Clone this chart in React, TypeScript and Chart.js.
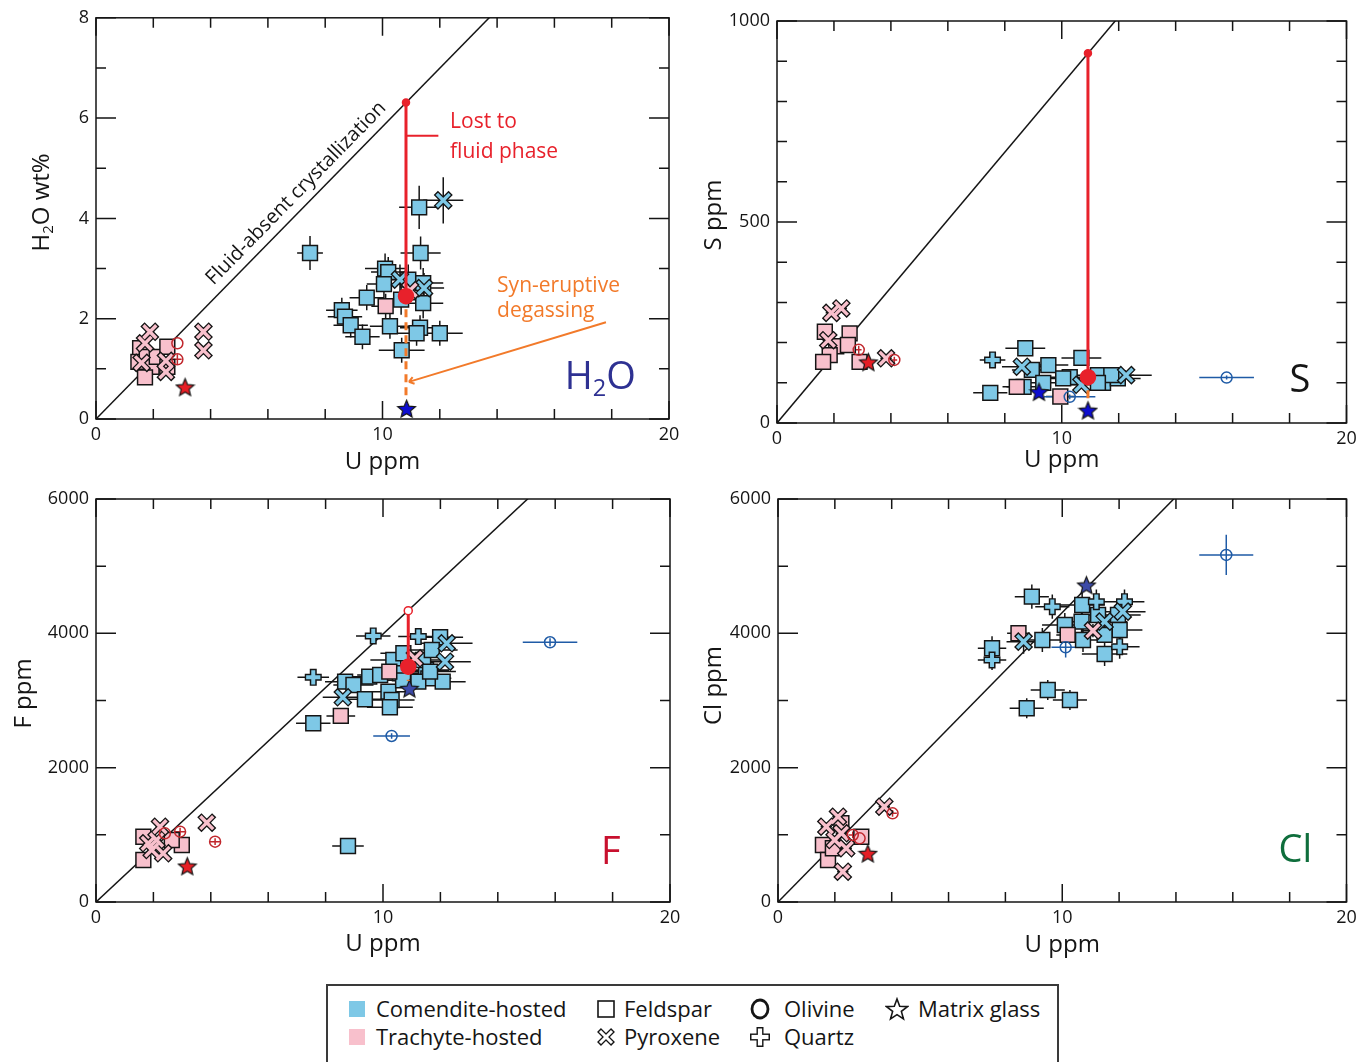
import React, { useEffect, useRef } from 'react';
import { Chart, registerables } from 'chart.js';

Chart.register(...registerables);

const FONT = "'Open Sans', 'Noto Sans', sans-serif";
const INK = '#151515';
const COM = '#7ec8e6';
const TRA = '#f8c0cc';
const COM_OL = '#1f5ba6';
const TRA_OL = '#c1272d';
const RED = '#e8212b';
const ORANGE = '#f27a2a';

// ---------- shared axis ----------
const U_MIN = 0;
const U_MAX = 20;
const U_STEP = 2;
const U_LABEL_STEP = 10;

// ---------- H2O panel (U ppm, H2O wt%) : [U, value, errU, errValue] ----------
const H2O_COM_FSP = [
  [7.47, 3.31, 0.45, 0.34], [11.28, 4.22, 0.7, 0.43], [11.33, 3.31, 0.7, 0.33],
  [10.09, 3.0, 0.7, 0.3], [10.2, 2.93, 0.6, 0.3], [10.05, 2.69, 0.6, 0.3],
  [10.9, 2.78, 0.6, 0.3], [11.42, 2.71, 0.7, 0.3], [9.45, 2.42, 0.6, 0.25],
  [10.65, 2.38, 0.6, 0.3], [11.42, 2.31, 0.7, 0.3], [8.58, 2.17, 0.55, 0.25],
  [8.69, 2.04, 0.6, 0.25], [8.89, 1.87, 0.6, 0.25], [9.3, 1.64, 0.6, 0.25],
  [10.26, 1.85, 0.7, 0.25], [11.31, 1.82, 0.7, 0.25], [11.19, 1.71, 0.7, 0.25],
  [12.0, 1.71, 0.8, 0.25], [10.67, 1.37, 0.8, 0.25],
];
const H2O_COM_PYX = [[12.12, 4.36, 0.7, 0.46], [10.61, 2.78, 0.6, 0.3], [11.45, 2.61, 0.7, 0.3]];
const H2O_COM_QTZ: number[][] = [];
const H2O_COM_OL: number[][] = [];
const H2O_COM_GL = [[10.84, 0.21]];
const H2O_TRA_FSP = [
  [10.11, 2.25, 0.5, 0.25], [1.54, 1.41, 0.15, 0.08], [1.48, 1.14, 0.15, 0.08],
  [1.77, 1.24, 0.15, 0.08], [1.94, 1.04, 0.15, 0.08], [1.71, 0.83, 0.15, 0.08],
  [2.12, 1.24, 0.15, 0.08], [2.49, 1.44, 0.15, 0.08], [2.49, 1.04, 0.15, 0.08],
];
const H2O_TRA_PYX = [
  [1.88, 1.74, 0.15, 0.08], [1.71, 1.51, 0.15, 0.08], [1.59, 1.12, 0.15, 0.08],
  [2.44, 1.16, 0.15, 0.08], [2.44, 0.94, 0.15, 0.08], [3.75, 1.74, 0.15, 0.08],
  [3.75, 1.37, 0.15, 0.08], [10.96, 2.57, 0.3, 0.2],
];
const H2O_TRA_QTZ: number[][] = [];
const H2O_TRA_OL = [[2.84, 1.51, 0, 0], [2.84, 1.19, 0.15, 0.1]];
const H2O_TRA_GL = [[3.11, 0.64]];
const H2O_PATH = [[10.82, 6.31], [10.82, 2.45]];
const H2O_DEGAS = [[10.82, 2.45], [10.82, 0.44]];

// ---------- S panel ----------
const S_COM_FSP = [
  [7.49, 75, 0.6, 8], [8.72, 186, 0.7, 8], [8.95, 132, 0.7, 8], [9.53, 144, 0.7, 8],
  [8.66, 90, 0.6, 8], [9.35, 100, 0.7, 8], [10.69, 162, 0.7, 8], [10.28, 114, 0.7, 8],
  [10.05, 111, 0.7, 8], [11.45, 100, 0.8, 8], [11.97, 111, 0.8, 8], [11.27, 119, 0.8, 8],
  [11.74, 119, 0.8, 8], [11.27, 100, 0.8, 8],
];
const S_COM_PYX = [[8.6, 140, 0.7, 8], [10.69, 95, 0.7, 8], [12.26, 119, 0.9, 8]];
const S_COM_QTZ = [[7.57, 157, 0.45, 8]];
const S_COM_OL = [[10.28, 65, 0.9, 6], [15.79, 113, 0.96, 5]];
const S_COM_GL = [[9.2, 78], [10.92, 32]];
const S_TRA_FSP = [
  [1.68, 227, 0.2, 8], [2.55, 223, 0.2, 8], [2.08, 191, 0.2, 8], [2.49, 194, 0.2, 8],
  [1.85, 169, 0.2, 8], [1.62, 152, 0.2, 8], [2.9, 152, 0.2, 8], [8.42, 90, 0.5, 8],
  [9.95, 66, 0.5, 8],
];
const S_TRA_PYX = [[1.91, 274, 0.2, 8], [2.26, 285, 0.2, 8], [1.8, 206, 0.2, 8], [3.83, 161, 0.2, 8]];
const S_TRA_QTZ: number[][] = [];
const S_TRA_OL = [[2.87, 182, 0.1, 10], [4.12, 157, 0.1, 8]];
const S_TRA_GL = [[3.21, 152]];
const S_PATH = [[10.92, 920], [10.92, 114]];
const S_DEGAS = [[10.92, 114], [10.92, 55]];

// ---------- F panel ----------
const F_COM_FSP = [
  [11.99, 3941, 0.8, 60], [8.68, 3281, 0.7, 60], [8.97, 3231, 0.7, 60], [9.52, 3355, 0.7, 60],
  [9.37, 3018, 0.7, 60], [10.36, 3603, 0.8, 60], [10.71, 3703, 0.8, 60], [11.5, 3454, 0.8, 60],
  [11.58, 3330, 0.8, 60], [12.08, 3281, 0.8, 60], [10.19, 3132, 0.8, 60], [10.3, 3008, 0.8, 60],
  [10.24, 2899, 0.8, 60], [7.57, 2661, 0.6, 60], [11.4, 3603, 0.9, 60], [11.7, 3752, 0.9, 60],
  [10.59, 3405, 0.8, 60], [9.9, 3380, 0.8, 60], [11.23, 3281, 0.8, 60], [11.64, 3430, 0.9, 60],
  [10.7, 3300, 0.8, 60], [8.78, 834, 0.55, 40],
];
const F_COM_PYX = [[8.6, 3048, 0.7, 60], [12.22, 3852, 0.9, 60], [12.16, 3578, 0.9, 60]];
const F_COM_QTZ = [[9.66, 3961, 0.6, 60], [11.23, 3951, 0.7, 60], [7.57, 3345, 0.55, 60]];
const F_COM_OL = [[10.3, 2472, 0.64, 40], [15.82, 3867, 0.95, 60]];
const F_COM_GL = [[10.92, 3182]];
const F_TRA_FSP = [
  [10.22, 3429, 0.5, 60], [8.53, 2770, 0.5, 60], [1.65, 972, 0.15, 40], [1.65, 625, 0.15, 40],
  [2.99, 849, 0.15, 40], [2.64, 923, 0.15, 40],
];
const F_TRA_PYX = [
  [11.11, 3628, 0.4, 60], [3.86, 1181, 0.15, 40], [2.23, 1121, 0.15, 40], [1.82, 874, 0.15, 40],
  [2.34, 725, 0.15, 40], [1.94, 774, 0.15, 40], [2.11, 923, 0.15, 40],
];
const F_TRA_QTZ: number[][] = [];
const F_TRA_OL = [[4.15, 898, 0.2, 50], [2.93, 1047, 0.2, 60], [2.4, 1022, 0.2, 60]];
const F_TRA_GL = [[3.18, 536]];
const F_PATH = [[10.88, 4337], [10.88, 3503]];
const F_DEGAS = [[10.88, 3503], [10.88, 3290]];

// ---------- Cl panel ----------
const CL_COM_FSP = [
  [8.93, 4546, 0.6, 180], [10.7, 4422, 0.8, 180], [10.68, 4174, 0.8, 180], [10.09, 4124, 0.8, 180],
  [11.96, 4273, 0.8, 180], [12.02, 4050, 0.8, 180], [9.3, 3901, 0.7, 180], [10.73, 3901, 0.8, 180],
  [11.49, 3976, 0.8, 180], [11.49, 3693, 0.8, 180], [7.53, 3778, 0.5, 180], [9.49, 3157, 0.6, 150],
  [10.27, 3008, 0.6, 150], [8.75, 2884, 0.6, 150], [11.26, 4273, 0.8, 180],
];
const CL_COM_PYX = [[12.13, 4323, 0.8, 180], [11.49, 4174, 0.8, 180], [8.64, 3876, 0.6, 180]];
const CL_COM_QTZ = [
  [9.65, 4397, 0.6, 180], [11.2, 4472, 0.7, 180], [12.19, 4472, 0.7, 180], [12.02, 3802, 0.7, 180],
  [7.53, 3603, 0.5, 150],
];
const CL_COM_OL = [[10.12, 3792, 0.5, 150], [15.77, 5167, 0.95, 300]];
const CL_COM_GL = [[10.85, 4720]];
const CL_TRA_FSP = [
  [8.46, 4001, 0.4, 100], [10.19, 3976, 0.4, 100], [1.58, 849, 0.2, 60], [1.76, 625, 0.2, 60],
  [2.93, 972, 0.2, 60], [2.23, 1172, 0.2, 60], [1.93, 800, 0.2, 60],
];
const CL_TRA_PYX = [
  [11.08, 4040, 0.4, 100], [3.74, 1419, 0.2, 60], [2.11, 1270, 0.2, 60], [1.7, 1121, 0.2, 60],
  [2.23, 1023, 0.2, 60], [2.28, 451, 0.2, 60], [2.4, 800, 0.2, 60], [1.99, 923, 0.2, 60],
];
const CL_TRA_QTZ: number[][] = [];
const CL_TRA_OL = [[4.03, 1320, 0.15, 50], [2.63, 998, 0.15, 50], [2.87, 948, 0.15, 50]];
const CL_TRA_GL = [[3.16, 725]];

// ---------- panel axes and reference lines ----------
const Y_MAX = [8, 1000, 6000, 6000];
const Y_STEP = [1, 100, 1000, 1000];
const Y_LABEL_STEP = [2, 500, 2000, 2000];
const ONE_TO_ONE_SLOPE = [0.583, 84.2, 399, 431];

// ---------- annotation anchors (data units) ----------
const LOST_TEXT = ['Lost to', 'fluid phase'];
const LOST_TEXT_AT = [[12.36, 5.93], [12.36, 5.33]];
const LOST_LEADER = [[10.82, 5.65], [11.95, 5.65]];
const SYN_TEXT = ['Syn-eruptive', 'degassing'];
const SYN_TEXT_AT = [[14.0, 2.65], [14.0, 2.15]];
const SYN_LEADER = [[17.8, 1.93], [10.92, 0.74]];
const DIAG_TEXT = 'Fluid-absent crystallization';
const DIAG_TEXT_U = 7.36;
const TAG_AT = [[17.6, 0.88], [18.36, 112], [17.94, 774], [18.2, 804]];

type Part = [string, boolean];

function makeStar(fill: string, size: number) {
  const c = document.createElement('canvas');
  c.width = size;
  c.height = size;
  const g = c.getContext('2d')!;
  const cx = size / 2;
  const cy = size / 2 + size * 0.05;
  const R = size / 2 - 1.2;
  const r = R * 0.45;
  g.beginPath();
  for (let i = 0; i < 10; i++) {
    const a = -Math.PI / 2 + (i * Math.PI) / 5;
    const rr = i % 2 ? r : R;
    g.lineTo(cx + rr * Math.cos(a), cy + rr * Math.sin(a));
  }
  g.closePath();
  g.fillStyle = fill;
  g.fill();
  g.lineWidth = 1.2;
  g.strokeStyle = INK;
  g.stroke();
  return c;
}

const pts = (a: number[][]) => a.map((p) => ({ x: p[0], y: p[1] }));
const errs = (a: number[][]) => a.map((p) => [p[2] || 0, p[3] || 0]);

function squares(a: number[][], fill: string) {
  return {
    data: pts(a), errs: errs(a), errColor: INK,
    pointStyle: 'rect', pointRadius: 10.5, pointBackgroundColor: fill,
    pointBorderColor: INK, pointBorderWidth: 1.5, showLine: false,
  };
}
function outlined(a: number[][], fill: string, style: string, r: number, wOut: number, wIn: number) {
  return [
    {
      data: pts(a), errs: errs(a), errColor: INK,
      pointStyle: style, pointRadius: r, pointBorderColor: INK, pointBorderWidth: wOut,
      pointBackgroundColor: INK, showLine: false,
    },
    {
      data: pts(a), pointStyle: style, pointRadius: r - 1.4, pointBorderColor: fill,
      pointBorderWidth: wIn, pointBackgroundColor: fill, showLine: false,
    },
  ];
}
function olivine(a: number[][], c: string) {
  return {
    data: pts(a), errs: errs(a), errColor: c,
    pointStyle: 'circle', pointRadius: 5.5, pointBackgroundColor: 'rgba(255,255,255,0)',
    pointBorderColor: c, pointBorderWidth: 1.5, showLine: false,
  };
}
function stars(a: number[][], img: HTMLCanvasElement) {
  return { data: pts(a), pointStyle: img, pointRadius: 10, showLine: false };
}

const isMul = (v: number, s: number) => {
  const q = v / s;
  return Math.abs(q - Math.round(q)) < 1e-6;
};

function drawRich(ctx: CanvasRenderingContext2D, parts: Part[], x: number, y: number, size: number, color: string, rotate: boolean) {
  ctx.save();
  ctx.translate(x, y);
  if (rotate) ctx.rotate(-Math.PI / 2);
  ctx.fillStyle = color;
  ctx.textBaseline = 'alphabetic';
  ctx.textAlign = 'left';
  let total = 0;
  const widths = parts.map(([t, sub]) => {
    ctx.font = `${sub ? size * 0.62 : size}px ${FONT}`;
    const w = ctx.measureText(t).width;
    total += w;
    return w;
  });
  let cx = -total / 2;
  const base = size * 0.36;
  parts.forEach(([t, sub], i) => {
    ctx.font = `${sub ? size * 0.62 : size}px ${FONT}`;
    ctx.fillText(t, cx, base + (sub ? size * 0.2 : 0));
    cx += widths[i];
  });
  ctx.restore();
}

interface Panel {
  idx: number;
  box: number[];
  yW: number;
  padTop: number;
  padRight: number;
  xH: number;
  yTitle: Part[];
  yTitleDx: number;
  yTitleDy: number;
  xTitleDy: number;
  tag: Part[];
  tagColor: string;
  com: number[][][];
  tra: number[][][];
  comStar: string;
  path?: number[][];
  degas?: number[][];
  openTop?: boolean;
  h2oNotes?: boolean;
}

function makeDecor(p: Panel) {
  return {
    id: 'decor',
    beforeDatasetsDraw(chart: any) {
      const { ctx, chartArea: a } = chart;
      const xs = chart.scales.x;
      const ys = chart.scales.y;
      ctx.save();
      ctx.beginPath();
      ctx.rect(a.left, a.top, a.right - a.left, a.bottom - a.top);
      ctx.clip();
      ctx.lineWidth = 1.5;
      chart.data.datasets.forEach((ds: any) => {
        if (!ds.errs) return;
        ctx.strokeStyle = ds.errColor;
        ctx.beginPath();
        ds.data.forEach((pt: any, i: number) => {
          const [eu, ev] = ds.errs[i];
          if (eu > 0) {
            const yy = ys.getPixelForValue(pt.y);
            ctx.moveTo(xs.getPixelForValue(pt.x - eu), yy);
            ctx.lineTo(xs.getPixelForValue(pt.x + eu), yy);
          }
          if (ev > 0) {
            const xx = xs.getPixelForValue(pt.x);
            ctx.moveTo(xx, ys.getPixelForValue(pt.y - ev));
            ctx.lineTo(xx, ys.getPixelForValue(pt.y + ev));
          }
        });
        ctx.stroke();
      });
      ctx.restore();
    },
    afterDatasetsDraw(chart: any) {
      const { ctx, chartArea: a } = chart;
      const xs = chart.scales.x;
      const ys = chart.scales.y;
      const X = (u: number) => xs.getPixelForValue(u);
      const Y = (v: number) => ys.getPixelForValue(v);
      ctx.save();
      ctx.strokeStyle = INK;
      ctx.lineWidth = 1.5;
      ctx.strokeRect(a.left, a.top, a.right - a.left, a.bottom - a.top);
      ctx.beginPath();
      xs.ticks.forEach((t: any) => {
        const px = X(t.value);
        const L = isMul(t.value, U_LABEL_STEP) ? 18 : 10;
        ctx.moveTo(px, a.bottom);
        ctx.lineTo(px, a.bottom - L);
        ctx.moveTo(px, a.top);
        ctx.lineTo(px, a.top + L);
      });
      ys.ticks.forEach((t: any) => {
        const py = Y(t.value);
        const L = isMul(t.value, Y_LABEL_STEP[p.idx]) ? 20 : 10;
        ctx.moveTo(a.left, py);
        ctx.lineTo(a.left + L, py);
        ctx.moveTo(a.right, py);
        ctx.lineTo(a.right - L, py);
      });
      ctx.stroke();

      ctx.fillStyle = INK;
      ctx.font = `24px ${FONT}`;
      ctx.textAlign = 'center';
      ctx.textBaseline = 'middle';
      ctx.fillText('U ppm', (a.left + a.right) / 2, a.bottom + p.xTitleDy);
      drawRich(ctx, p.yTitle, a.left + p.yTitleDx, (a.top + a.bottom) / 2 + p.yTitleDy, 24, INK, true);

      const tg = TAG_AT[p.idx];
      drawRich(ctx, p.tag, X(tg[0]), Y(tg[1]), 38, p.tagColor, false);

      if (p.h2oNotes) {
        const slope = ONE_TO_ONE_SLOPE[p.idx];
        const x0 = X(DIAG_TEXT_U);
        const y0 = Y(DIAG_TEXT_U * slope);
        const ang = Math.atan2(Y((DIAG_TEXT_U + 1) * slope) - y0, X(DIAG_TEXT_U + 1) - x0);
        ctx.save();
        ctx.translate(x0, y0);
        ctx.rotate(ang);
        ctx.font = `20px ${FONT}`;
        ctx.fillStyle = INK;
        ctx.textAlign = 'center';
        ctx.textBaseline = 'middle';
        ctx.fillText(DIAG_TEXT, 0, -15);
        ctx.restore();

        ctx.font = `21px ${FONT}`;
        ctx.textAlign = 'left';
        ctx.textBaseline = 'middle';
        ctx.fillStyle = RED;
        LOST_TEXT.forEach((t, i) => ctx.fillText(t, X(LOST_TEXT_AT[i][0]), Y(LOST_TEXT_AT[i][1])));
        ctx.strokeStyle = RED;
        ctx.lineWidth = 2;
        ctx.beginPath();
        ctx.moveTo(X(LOST_LEADER[0][0]), Y(LOST_LEADER[0][1]));
        ctx.lineTo(X(LOST_LEADER[1][0]), Y(LOST_LEADER[1][1]));
        ctx.stroke();

        ctx.fillStyle = ORANGE;
        SYN_TEXT.forEach((t, i) => ctx.fillText(t, X(SYN_TEXT_AT[i][0]), Y(SYN_TEXT_AT[i][1])));
        ctx.strokeStyle = ORANGE;
        const sx = X(SYN_LEADER[0][0]);
        const sy = Y(SYN_LEADER[0][1]);
        const ex = X(SYN_LEADER[1][0]);
        const ey = Y(SYN_LEADER[1][1]);
        ctx.beginPath();
        ctx.moveTo(sx, sy);
        ctx.lineTo(ex, ey);
        const la = Math.atan2(ey - sy, ex - sx);
        ctx.moveTo(ex, ey);
        ctx.lineTo(ex - 6 * Math.cos(la - 0.6), ey - 6 * Math.sin(la - 0.6));
        ctx.moveTo(ex, ey);
        ctx.lineTo(ex - 6 * Math.cos(la + 0.6), ey - 6 * Math.sin(la + 0.6));
        ctx.stroke();
      }
      ctx.restore();
    },
  };
}

function buildConfig(p: Panel) {
  const [cf, cp, cq, co, cg] = p.com;
  const [tf, tp, tq, to, tgl] = p.tra;
  const slope = ONE_TO_ONE_SLOPE[p.idx];
  const list: any[] = [];
  list.push({
    data: [{ x: 0, y: 0 }, { x: U_MAX, y: U_MAX * slope }],
    showLine: true, borderColor: INK, borderWidth: 1.5, pointRadius: 0,
  });
  list.push(squares(cf, COM));
  list.push(squares(tf, TRA));
  list.push(...outlined(cq, COM, 'cross', 8.5, 7, 4));
  list.push(...outlined(tq, TRA, 'cross', 8.5, 7, 4));
  list.push(...outlined(cp, COM, 'crossRot', 10.5, 6, 3.4));
  list.push(...outlined(tp, TRA, 'crossRot', 10.5, 6, 3.4));
  list.push(olivine(co, COM_OL));
  list.push(olivine(to, TRA_OL));
  list.push(stars(tgl, makeStar('#e61e25', 21)));
  list.push(stars(cg, makeStar(p.comStar, 21)));
  if (p.degas) {
    list.push({
      data: pts(p.degas), showLine: true, borderColor: ORANGE, borderWidth: 3,
      borderDash: [8, 5], pointRadius: 0,
    });
  }
  if (p.path) {
    list.push({
      data: pts(p.path), showLine: true, borderColor: RED, borderWidth: 3,
      pointRadius: [p.openTop ? 4 : 3.5, 7.5],
      pointBackgroundColor: [p.openTop ? '#ffffff' : RED, RED],
      pointBorderColor: RED, pointBorderWidth: 1.5,
    });
  }
  list.forEach((d, i) => {
    d.order = list.length - i;
  });

  const tickFont = { family: FONT, size: 18 };
  return {
    type: 'scatter',
    data: { datasets: list },
    options: {
      responsive: false,
      animation: false,
      events: [],
      layout: { padding: { top: p.padTop, right: p.padRight, left: 0, bottom: 0 } },
      plugins: { legend: { display: false }, tooltip: { enabled: false } },
      scales: {
        x: {
          type: 'linear', min: U_MIN, max: U_MAX,
          afterFit: (s: any) => { s.height = p.xH; },
          grid: { display: false, drawTicks: false },
          border: { display: false },
          ticks: {
            stepSize: U_STEP, autoSkip: false, maxRotation: 0, padding: 5,
            font: tickFont, color: INK,
            callback: (v: number) => (isMul(v, U_LABEL_STEP) ? String(v) : ''),
          },
        },
        y: {
          type: 'linear', min: 0, max: Y_MAX[p.idx],
          afterFit: (s: any) => { s.width = p.yW; },
          grid: { display: false, drawTicks: false },
          border: { display: false },
          ticks: {
            stepSize: Y_STEP[p.idx], autoSkip: false, padding: 7,
            font: tickFont, color: INK,
            callback: (v: number) => (isMul(v, Y_LABEL_STEP[p.idx]) ? String(v) : ''),
          },
        },
      },
    },
    plugins: [makeDecor(p)],
  };
}

const PANELS: Panel[] = [
  {
    idx: 0, box: [0, 0, 690, 480], yW: 96, padTop: 17, padRight: 21, xH: 61,
    yTitle: [['H', false], ['2', true], ['O wt%', false]], yTitleDx: -56, yTitleDy: -16, xTitleDy: 43,
    tag: [['H', false], ['2', true], ['O', false]], tagColor: '#2e3192',
    com: [H2O_COM_FSP, H2O_COM_PYX, H2O_COM_QTZ, H2O_COM_OL, H2O_COM_GL],
    tra: [H2O_TRA_FSP, H2O_TRA_PYX, H2O_TRA_QTZ, H2O_TRA_OL, H2O_TRA_GL],
    comStar: '#0d0dd0', path: H2O_PATH, degas: H2O_DEGAS, h2oNotes: true,
  },
  {
    idx: 1, box: [690, 0, 673, 480], yW: 87, padTop: 21, padRight: 13, xH: 57,
    yTitle: [['S ppm', false]], yTitleDx: -65, yTitleDy: -7, xTitleDy: 37,
    tag: [['S', false]], tagColor: INK,
    com: [S_COM_FSP, S_COM_PYX, S_COM_QTZ, S_COM_OL, S_COM_GL],
    tra: [S_TRA_FSP, S_TRA_PYX, S_TRA_QTZ, S_TRA_OL, S_TRA_GL],
    comStar: '#0d0dd0', path: S_PATH, degas: S_DEGAS,
  },
  {
    idx: 2, box: [0, 480, 690, 500], yW: 96, padTop: 19, padRight: 20, xH: 78,
    yTitle: [['F ppm', false]], yTitleDx: -74, yTitleDy: -7, xTitleDy: 42,
    tag: [['F', false]], tagColor: '#c8102e',
    com: [F_COM_FSP, F_COM_PYX, F_COM_QTZ, F_COM_OL, F_COM_GL],
    tra: [F_TRA_FSP, F_TRA_PYX, F_TRA_QTZ, F_TRA_OL, F_TRA_GL],
    comStar: '#3c4aa8', path: F_PATH, degas: F_DEGAS, openTop: true,
  },
  {
    idx: 3, box: [690, 480, 673, 500], yW: 88, padTop: 19, padRight: 13, xH: 78,
    yTitle: [['Cl ppm', false]], yTitleDx: -66, yTitleDy: -15, xTitleDy: 43,
    tag: [['Cl', false]], tagColor: '#0f6e3c',
    com: [CL_COM_FSP, CL_COM_PYX, CL_COM_QTZ, CL_COM_OL, CL_COM_GL],
    tra: [CL_TRA_FSP, CL_TRA_PYX, CL_TRA_QTZ, CL_TRA_OL, CL_TRA_GL],
    comStar: '#3c4aa8',
  },
];

function PanelChart({ p }: { p: Panel }) {
  const ref = useRef<HTMLCanvasElement>(null);
  useEffect(() => {
    const chart = new Chart(ref.current as HTMLCanvasElement, buildConfig(p) as any);
    return () => chart.destroy();
  }, [p]);
  const [l, t, w, h] = p.box;
  return (
    <canvas
      ref={ref}
      width={w}
      height={h}
      style={{ position: 'absolute', left: l, top: t, width: w, height: h }}
    />
  );
}

const LEGEND_ITEMS = [
  { label: 'Comendite-hosted', sym: 'comSwatch', col: 0, row: 0 },
  { label: 'Trachyte-hosted', sym: 'traSwatch', col: 0, row: 1 },
  { label: 'Feldspar', sym: 'square', col: 1, row: 0 },
  { label: 'Pyroxene', sym: 'x', col: 1, row: 1 },
  { label: 'Olivine', sym: 'circle', col: 2, row: 0 },
  { label: 'Quartz', sym: 'plus', col: 2, row: 1 },
  { label: 'Matrix glass', sym: 'star', col: 3, row: 0 },
];
const LEGEND_SYM_X = [20, 268, 421, 557];
const LEGEND_TEXT_X = [48, 296, 456, 590];
const LEGEND_ROW_Y = [22, 50];

function Sym({ kind }: { kind: string }) {
  if (kind === 'comSwatch' || kind === 'traSwatch') {
    return (
      <svg width="18" height="18">
        <rect x="1" y="1" width="16" height="16" fill={kind === 'comSwatch' ? COM : TRA} />
      </svg>
    );
  }
  if (kind === 'square') {
    return (
      <svg width="20" height="20">
        <rect x="2" y="2" width="16" height="16" fill="none" stroke={INK} strokeWidth="1.6" />
      </svg>
    );
  }
  if (kind === 'x') {
    return (
      <svg width="20" height="20">
        <g strokeLinecap="butt">
          <line x1="3" y1="3" x2="17" y2="17" stroke={INK} strokeWidth="5.5" />
          <line x1="17" y1="3" x2="3" y2="17" stroke={INK} strokeWidth="5.5" />
          <line x1="4" y1="4" x2="16" y2="16" stroke="#fff" strokeWidth="3" />
          <line x1="16" y1="4" x2="4" y2="16" stroke="#fff" strokeWidth="3" />
        </g>
      </svg>
    );
  }
  if (kind === 'circle') {
    return (
      <svg width="22" height="22">
        <ellipse cx="11" cy="11" rx="8" ry="9" fill="none" stroke={INK} strokeWidth="2.8" />
      </svg>
    );
  }
  if (kind === 'plus') {
    return (
      <svg width="22" height="22">
        <line x1="11" y1="1" x2="11" y2="21" stroke={INK} strokeWidth="7" />
        <line x1="1" y1="11" x2="21" y2="11" stroke={INK} strokeWidth="7" />
        <line x1="11" y1="2.5" x2="11" y2="19.5" stroke="#fff" strokeWidth="4.2" />
        <line x1="2.5" y1="11" x2="19.5" y2="11" stroke="#fff" strokeWidth="4.2" />
      </svg>
    );
  }
  const pts5: string[] = [];
  for (let i = 0; i < 10; i++) {
    const a = -Math.PI / 2 + (i * Math.PI) / 5;
    const r = i % 2 ? 4.6 : 11;
    pts5.push(`${(12 + r * Math.cos(a)).toFixed(2)},${(13 + r * Math.sin(a)).toFixed(2)}`);
  }
  return (
    <svg width="24" height="24">
      <polygon points={pts5.join(' ')} fill="none" stroke={INK} strokeWidth="1.6" strokeLinejoin="miter" />
    </svg>
  );
}

function Legend() {
  return (
    <div
      style={{
        position: 'absolute', left: 326, top: 984, width: 733, height: 84,
        border: '2px solid #3a3a3a', boxSizing: 'border-box', background: '#fff',
      }}
    >
      {LEGEND_ITEMS.map((it) => {
        const cy = LEGEND_ROW_Y[it.row];
        return (
          <React.Fragment key={it.label}>
            <div
              style={{
                position: 'absolute', left: LEGEND_SYM_X[it.col], top: cy - 11,
                width: 24, height: 24, display: 'flex', alignItems: 'center',
              }}
            >
              <Sym kind={it.sym} />
            </div>
            <span
              style={{
                position: 'absolute', left: LEGEND_TEXT_X[it.col], top: cy - 14,
                fontFamily: FONT, fontSize: 22, lineHeight: '28px', color: INK, whiteSpace: 'nowrap',
              }}
            >
              {it.label}
            </span>
          </React.Fragment>
        );
      })}
    </div>
  );
}

export default function App() {
  return (
    <div style={{ position: 'absolute', left: 0, top: 0, width: 1363, height: 1062, background: '#fff', overflow: 'hidden' }}>
      {PANELS.map((p) => (
        <PanelChart key={p.idx} p={p} />
      ))}
      <Legend />
    </div>
  );
}
